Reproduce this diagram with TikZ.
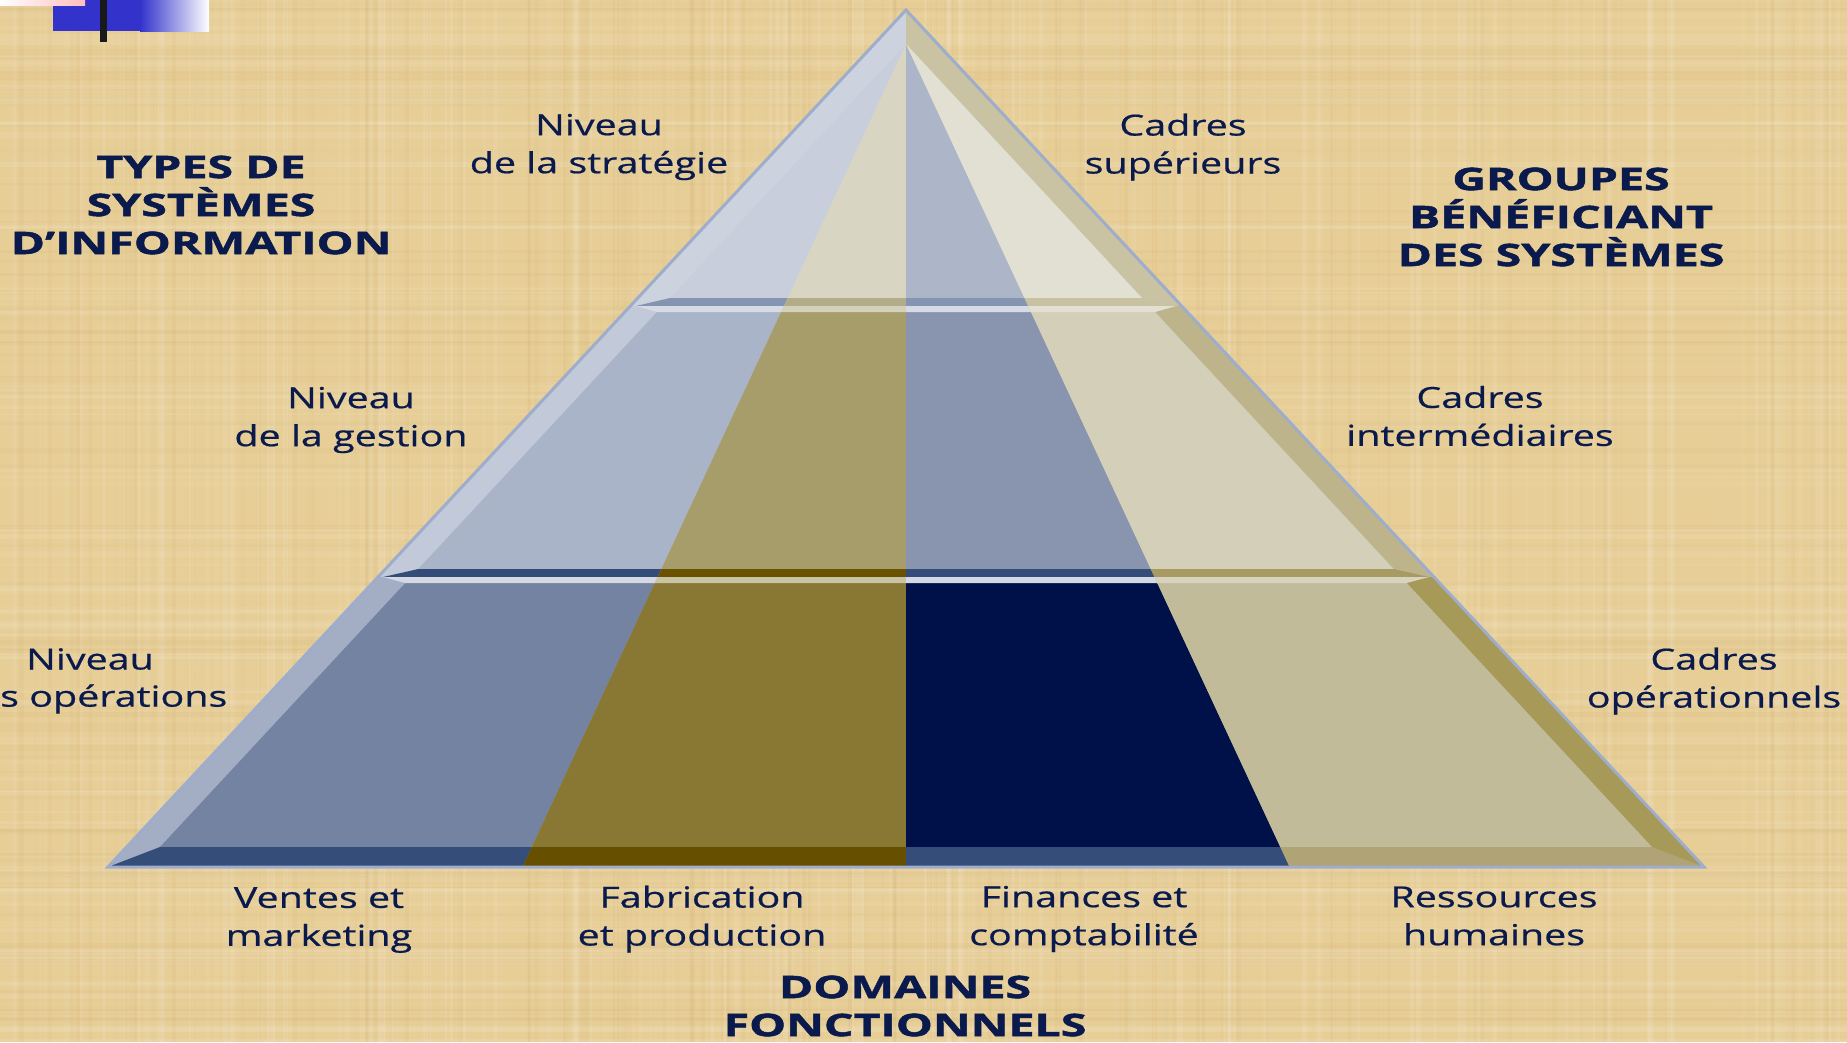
\documentclass[tikz,border=0pt]{standalone}
\usepackage{fontspec}
\setmainfont{Open Sans}[FakeStretch=1.36, FakeBold=0.6]
\newfontfamily\headfont{Open Sans}[FakeStretch=1.5, BoldFeatures={FakeBold=1.6}]
\definecolor{bg}{HTML}{E7CE97}
\definecolor{bgdark}{HTML}{C9A766}
\definecolor{ink}{HTML}{0A1A4C}
\definecolor{outl}{HTML}{9DADCB}
% top band
\definecolor{lbevT}{HTML}{CDD3DE}\definecolor{rbevT}{HTML}{C9C3A3}
\definecolor{fT1}{HTML}{C8CEDB}\definecolor{fT2}{HTML}{D8D6C2}\definecolor{fT3}{HTML}{ADB5C9}\definecolor{fT4}{HTML}{E1E0D3}
\definecolor{dT1}{HTML}{8594B0}\definecolor{dT2}{HTML}{B3AC88}\definecolor{dT3}{HTML}{8594B0}\definecolor{dT4}{HTML}{C8C2A2}
% middle band
\definecolor{lbevM}{HTML}{C2C9D8}\definecolor{rbevM}{HTML}{BDB48C}
\definecolor{fM1}{HTML}{A9B4C9}\definecolor{fM2}{HTML}{A79D6B}\definecolor{fM3}{HTML}{8994AF}\definecolor{fM4}{HTML}{D4CFB9}
\definecolor{dM1}{HTML}{344D78}\definecolor{dM2}{HTML}{6A5200}\definecolor{dM3}{HTML}{344D78}\definecolor{dM4}{HTML}{A89A63}
\definecolor{hM1}{HTML}{D7DBE5}\definecolor{hM2}{HTML}{D3D0BC}\definecolor{hM3}{HTML}{D7DBE5}\definecolor{hM4}{HTML}{E2E0D2}
% bottom band
\definecolor{lbevB}{HTML}{A3AEC5}\definecolor{rbevB}{HTML}{A79958}
\definecolor{fB1}{HTML}{7483A1}\definecolor{fB2}{HTML}{887834}\definecolor{fB3}{HTML}{001048}\definecolor{fB4}{HTML}{C1BB99}
\definecolor{hB1}{HTML}{D4D9E3}\definecolor{hB2}{HTML}{C9C4A3}\definecolor{hB3}{HTML}{D4D9E3}\definecolor{hB4}{HTML}{D7D3BF}
\definecolor{dB1}{HTML}{344E79}\definecolor{dB2}{HTML}{665000}\definecolor{dB3}{HTML}{344E79}\definecolor{dB4}{HTML}{B0A477}
\newcommand\fourcols[4]{%
  \fill[#1] (906,44) -- (507,900) -- (0,900) -- (0,0) -- (906,0) -- cycle;
  \fill[#2] (906,44) -- (507,900) -- (906,900) -- cycle;
  \fill[#3] (906,44) -- (906,900) -- (1305,900) -- cycle;
  \fill[#4] (906,44) -- (1305,900) -- (1847,900) -- (1847,0) -- (906,0) -- cycle;}
\newcommand\twohalves[2]{%
  \fill[#1] (0,0) rectangle (906,900);
  \fill[#2] (906,0) rectangle (1847,900);}
\tikzset{
  lbl/.style={text=ink, align=center, inner sep=0pt, font=\fontsize{29}{38}\selectfont},
  hd/.style={text=ink, align=center, inner sep=0pt, font=\headfont\bfseries\fontsize{31}{38}\selectfont},
}
\begin{document}
\begin{tikzpicture}[x=1pt,y=-1pt]
\fill[bg] (0,0) rectangle (1847,1042);
\useasboundingbox (0,0) rectangle (1847,1042);
% papyrus texture
\pgfmathsetseed{42}
\begin{scope}
\clip (0,0) rectangle (1847,1042);
\foreach \i in {1,...,160}{
  \pgfmathsetmacro\xx{rnd*1847}\pgfmathsetmacro\ww{1+rnd*5}\pgfmathsetmacro\oo{0.03+rnd*0.08}
  \fill[white, opacity=\oo] (\xx,0) rectangle ++(\ww,1042);}
\foreach \i in {1,...,130}{
  \pgfmathsetmacro\xx{rnd*1847}\pgfmathsetmacro\ww{1+rnd*4}\pgfmathsetmacro\oo{0.03+rnd*0.08}
  \fill[bgdark, opacity=\oo] (\xx,0) rectangle ++(\ww,1042);}
\foreach \i in {1,...,100}{
  \pgfmathsetmacro\yy{rnd*1042}\pgfmathsetmacro\ww{1+rnd*5}\pgfmathsetmacro\oo{0.03+rnd*0.07}
  \fill[white, opacity=\oo] (0,\yy) rectangle ++(1847,\ww);}
\foreach \i in {1,...,90}{
  \pgfmathsetmacro\yy{rnd*1042}\pgfmathsetmacro\ww{1+rnd*4}\pgfmathsetmacro\oo{0.03+rnd*0.07}
  \fill[bgdark, opacity=\oo] (0,\yy) rectangle ++(1847,\ww);}
\end{scope}
% decoration top-left
\fill[fill={rgb,255:red,51;green,51;blue,204}] (53,0) rectangle (140,31);
\shade[left color={rgb,255:red,51;green,51;blue,204}, right color=white] (140,0) rectangle (209,31);
\shade[left color=white, right color={rgb,255:red,255;green,190;blue,190}] (0,0) rectangle (85,5);
\fill[black!90] (100,0) rectangle (107,42);
% ---- top band
\begin{scope}
  \clip (906,10) -- (630.4,306) -- (1181.6,306) -- cycle;
  \twohalves{lbevT}{rbevT}
\end{scope}
\begin{scope}
  \clip (906,44) -- (670.0,298) -- (1142.0,298) -- cycle;
  \fourcols{fT1}{fT2}{fT3}{fT4}
\end{scope}
\begin{scope}
  \clip (636,306) -- (670.0,298) -- (1142.0,298) -- (1176,306) -- cycle;
  \fourcols{dT1}{dT2}{dT3}{dT4}
\end{scope}
% ---- middle band
\begin{scope}
  \clip (630.4,306) -- (1181.6,306) -- (1434,577) -- (378,577) -- cycle;
  \twohalves{lbevM}{rbevM}
\end{scope}
\begin{scope}
  \clip (657,312) -- (1155,312) -- (1393.7,569) -- (418.3,569) -- cycle;
  \fourcols{fM1}{fM2}{fM3}{fM4}
\end{scope}
\begin{scope}
  \clip (636,306) -- (1176,306) -- (1155,312) -- (657,312) -- cycle;
  \fourcols{hM1}{hM2}{hM3}{hM4}
\end{scope}
\begin{scope}
  \clip (383,577) -- (418.3,569) -- (1393.7,569) -- (1429,577) -- cycle;
  \fourcols{dM1}{dM2}{dM3}{dM4}
\end{scope}
% ---- bottom band
\begin{scope}
  \clip (378,577) -- (1434,577) -- (1704,867) -- (108,867) -- cycle;
  \twohalves{lbevB}{rbevB}
\end{scope}
\begin{scope}
  \clip (405.3,583) -- (1406.7,583) -- (1652,847) -- (160,847) -- cycle;
  \fourcols{fB1}{fB2}{fB3}{fB4}
\end{scope}
\begin{scope}
  \clip (383,577) -- (1429,577) -- (1406.7,583) -- (405.3,583) -- cycle;
  \fourcols{hB1}{hB2}{hB3}{hB4}
\end{scope}
\begin{scope}
  \clip (108,867) -- (160,847) -- (1652,847) -- (1704,867) -- cycle;
  \fourcols{dB1}{dB2}{dB3}{dB4}
\end{scope}
% outline
\draw[outl, line width=3pt, line join=miter] (906,10) -- (108,867) -- (1704,867) -- cycle;
% ---- labels
\node[lbl] (strat) at (599,147) {Niveau\\de la stratégie};
\node[lbl] (sup) at (1183,147) {Cadres\\supérieurs};
\node[hd] (types) at (201,205) {TYPES DE\\SYSTÈMES\\D’INFORMATION};
\node[hd] (groupes) at (1561,217) {GROUPES\\BÉNÉFICIANT\\DES SYSTÈMES};
\node[lbl] (gestion) at (351,420) {Niveau\\de la gestion};
\node[lbl] (inter) at (1480,416) {Cadres\\intermédiaires};
\node[lbl] (opsA) at (90,659) {Niveau};
\node[lbl, anchor=west] (opsB) at (0,699) {s opérations};
\node[lbl] (cadop) at (1714,681) {Cadres\\opérationnels};
\node[lbl] (ventes) at (319,920) {Ventes et\\marketing};
\node[lbl] (fab) at (702,919) {Fabrication\\et production};
\node[lbl] (fin) at (1084,919) {Finances et\\comptabilité};
\node[lbl] (rh) at (1494,916) {Ressources\\humaines};
\node[hd] (dom) at (905,1006) {DOMAINES\\FONCTIONNELS};
\end{tikzpicture}
\end{document}
